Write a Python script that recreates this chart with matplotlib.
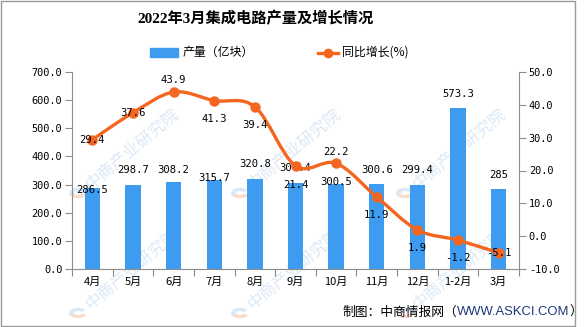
import matplotlib
matplotlib.use("Agg")
import matplotlib.pyplot as plt
from matplotlib.path import Path
from matplotlib.patches import PathPatch, Rectangle, Wedge
from matplotlib.lines import Line2D
import numpy as np

categories = ["4月", "5月", "6月", "7月", "8月", "9月", "10月", "11月", "12月", "1-2月", "3月"]
production = [286.5, 298.7, 308.2, 315.7, 320.8, 304.4, 300.5, 300.6, 299.4, 573.3, 285]
production_labels = ["286.5", "298.7", "308.2", "315.7", "320.8", "304.4", "300.5", "300.6", "299.4", "573.3", "285"]
growth = [29.4, 37.6, 43.9, 41.3, 39.4, 21.4, 22.2, 11.9, 1.9, -1.2, -5.1]
left_ticks = [0, 100, 200, 300, 400, 500, 600, 700]
right_ticks = [-10, 0, 10, 20, 30, 40, 50]

# label offsets (pixels) - styling only
bar_label_dy = [-2, 15, 12, 2, 15, 15, 2, 14, 15, 14, 14]
line_label_dy = [0, 0, 12, -18, -18, -19, 11, -18, -18, -18, 0]

BLUE = "#3d9cef"
ORANGE = "#f4661f"
GRAY = "#8c8c8c"
CJK = ["Noto Sans CJK SC", "DejaVu Sans"]
MONO = ["DejaVu Sans Mono", "Noto Sans CJK SC"]

W, H = 585, 327
fig = plt.figure(figsize=(W / 100, H / 100), dpi=100)

def fx(px):
    return px / W

def fy(py):
    return 1 - py / H

# watermarks (faint, behind everything)
wm_color = "#dbe9f6"
for lx in [78, 240, 405]:
    for ly in [193, 313]:
        fig.text(fx(lx + 10), fy(ly - 6), "中商产业研究院", rotation=40, color=wm_color,
                 fontsize=12, family=CJK, ha="left", va="center", rotation_mode="anchor",
                 zorder=-2)
        w1 = Wedge((fx(lx), fy(ly)), 0.014, 200, 330, width=0.006, color="#f9dccf",
                   transform=fig.transFigure, zorder=-2)
        w2 = Wedge((fx(lx), fy(ly)), 0.014, 40, 200, width=0.006, color=wm_color,
                   transform=fig.transFigure, zorder=-2)
        fig.patches.extend([w1, w2])

ax = fig.add_axes([fx(72), 58 / H, 447 / W, 197 / H])
ax.set_facecolor("none")
x = np.arange(len(categories))
ax.bar(x, production, width=0.38, color=BLUE, zorder=2)
ax.set_xlim(-0.5, len(categories) - 0.5)
ax.set_ylim(0, 700)
ax.set_yticks(left_ticks)
ax.set_yticklabels(["%.1f" % v for v in left_ticks], family=MONO, fontsize=7.4)
ax.set_xticks(np.arange(-0.5, len(categories), 1.0))
ax.set_xticklabels([])
ax.set_xticks(x, minor=True)
ax.set_xticklabels(categories, minor=True, family=CJK, fontsize=8)
ax.tick_params(axis="x", which="minor", length=0, pad=6)
ax.tick_params(axis="x", which="major", length=5, color=GRAY)
ax.tick_params(axis="y", length=5, color=GRAY, pad=2)
for s in ["top", "right"]:
    ax.spines[s].set_visible(False)
for s in ["left", "bottom"]:
    ax.spines[s].set_color(GRAY)

for i, v in enumerate(production):
    ax.annotate(production_labels[i], (x[i], v), xytext=(0, bar_label_dy[i]),
                textcoords="offset pixels", ha="center", va="center",
                family=MONO, fontsize=7.6, zorder=5)

ax2 = ax.twinx()
ax2.set_ylim(-10, 50)
ax2.set_yticks(right_ticks)
ax2.set_yticklabels(["%.1f" % v for v in right_ticks], family=MONO, fontsize=7.4)
ax2.tick_params(axis="y", length=5, color=GRAY, pad=2)
for s in ["top", "left", "bottom"]:
    ax2.spines[s].set_visible(False)
ax2.spines["right"].set_color(GRAY)

# smooth curve through the points (cubic Bezier, Catmull-Rom style)
pts = np.column_stack([x, growth]).astype(float)
n = len(pts)
verts = [tuple(pts[0])]
codes = [Path.MOVETO]
k = 0.5 / 3
for i in range(n - 1):
    p0 = pts[max(i - 1, 0)]
    p1 = pts[i]
    p2 = pts[i + 1]
    p3 = pts[min(i + 2, n - 1)]
    c1 = p1 + (p2 - p0) * k
    c2 = p2 - (p3 - p1) * k
    verts += [tuple(c1), tuple(c2), tuple(p2)]
    codes += [Path.CURVE4] * 3
ax2.add_patch(PathPatch(Path(verts, codes), facecolor="none", edgecolor=ORANGE,
                        lw=2.4, zorder=3, capstyle="round"))
ax2.plot(x, growth, linestyle="none", marker="o", markersize=6.5, color=ORANGE, zorder=4)
for i, v in enumerate(growth):
    ax2.annotate("%.1f" % v, (x[i], v), xytext=(0, line_label_dy[i]),
                 textcoords="offset pixels", ha="center", va="center",
                 family=MONO, fontsize=7.6, zorder=5)

# title
fig.text(fx(255), fy(19), "2022年3月集成电路产量及增长情况", ha="center", va="center",
         fontsize=11, fontweight="bold", family=["Liberation Serif", "Noto Sans CJK SC"])

# legend
fig.patches.append(Rectangle((fx(150), fy(57)), 28 / W, 9 / H, color=BLUE,
                             transform=fig.transFigure))
fig.text(fx(183), fy(52.5), "产量（亿块）", ha="left", va="center", fontsize=8.6, family=CJK)
fig.lines.append(Line2D([fx(318), fx(338)], [fy(52.5), fy(52.5)], color=ORANGE, lw=2.4,
                        transform=fig.transFigure))
fig.lines.append(Line2D([fx(328)], [fy(52.5)], marker="o", markersize=6, color=ORANGE,
                        transform=fig.transFigure))
fig.text(fx(342), fy(52.5), "同比增长(%)", ha="left", va="center", fontsize=8.6, family=CJK)

# source
t1 = fig.text(fx(342), fy(312), "制图：中商情报网（", ha="left", va="center",
              fontsize=9.2, family=CJK)
t2 = ax2.annotate("WWW.ASKCI.COM", xy=(1, 0.5), xycoords=t1, ha="left", va="center",
                  fontsize=9.4, family=["Liberation Sans"], color="#1d3a78",
                  annotation_clip=False)
ax2.annotate("）", xy=(1, 0.5), xycoords=t2, ha="left", va="center", fontsize=9.2,
             family=CJK, annotation_clip=False)

# frame
fig.patches.append(Rectangle((fx(0.5), 1.5 / H), 574 / W, 324.5 / H, fill=False,
                             edgecolor="#9a9a9a", lw=1, transform=fig.transFigure))

fig.savefig("out.png", dpi=100)
